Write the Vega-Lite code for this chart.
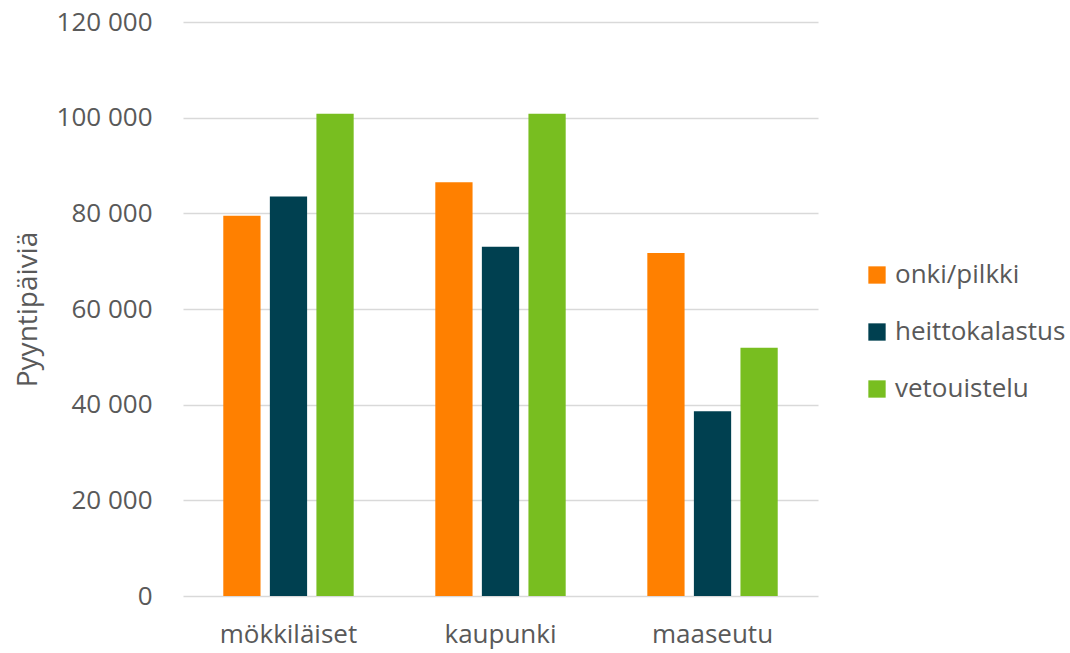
{
  "$schema": "https://vega.github.io/schema/vega-lite/v6.json",
  "width": 635,
  "height": 574,
  "autosize": {"type": "none"},
  "padding": {"left": 183, "top": 22, "right": 252, "bottom": 57},
  "background": "white",
  "data": {
    "values": [
      {"ryhma": "mökkiläiset", "tapa": "onki/pilkki", "paivat": 79500},
      {"ryhma": "mökkiläiset", "tapa": "heittokalastus", "paivat": 83500},
      {"ryhma": "mökkiläiset", "tapa": "vetouistelu", "paivat": 100800},
      {"ryhma": "kaupunki", "tapa": "onki/pilkki", "paivat": 86500},
      {"ryhma": "kaupunki", "tapa": "heittokalastus", "paivat": 73000},
      {"ryhma": "kaupunki", "tapa": "vetouistelu", "paivat": 100800},
      {"ryhma": "maaseutu", "tapa": "onki/pilkki", "paivat": 71700},
      {"ryhma": "maaseutu", "tapa": "heittokalastus", "paivat": 38600},
      {"ryhma": "maaseutu", "tapa": "vetouistelu", "paivat": 51900}
    ]
  },
  "config": {
    "font": "Open Sans",
    "view": {"stroke": null},
    "axis": {"labelColor": "#595959", "titleColor": "#595959", "labelFont": "Open Sans", "titleFont": "Open Sans"},
    "legend": {"labelColor": "#595959", "labelFont": "Open Sans"}
  },
  "mark": {"type": "bar"},
  "encoding": {
    "x": {
      "field": "ryhma",
      "type": "nominal",
      "sort": ["mökkiläiset", "kaupunki", "maaseutu"],
      "scale": {"paddingInner": 0.385, "paddingOuter": 0.19},
      "axis": {"title": null, "labelAngle": 0, "labelFontSize": 26, "labelPadding": 25, "ticks": false, "domain": false}
    },
    "xOffset": {
      "field": "tapa",
      "type": "nominal",
      "sort": ["onki/pilkki", "heittokalastus", "vetouistelu"],
      "scale": {"paddingInner": 0.2, "paddingOuter": 0}
    },
    "y": {
      "field": "paivat",
      "type": "quantitative",
      "scale": {"domain": [0, 120000], "nice": false},
      "axis": {
        "title": "Pyyntipäiviä",
        "titleFontSize": 28,
        "titleFontWeight": "normal",
        "titlePadding": 14,
        "labelFontSize": 26,
        "labelPadding": 31,
        "values": [0, 20000, 40000, 60000, 80000, 100000, 120000],
        "labelExpr": "replace(format(datum.value, ','), ',', ' ')",
        "ticks": false,
        "domain": false,
        "gridColor": "#d9d9d9",
        "gridWidth": 1.5
      }
    },
    "color": {
      "field": "tapa",
      "type": "nominal",
      "sort": ["onki/pilkki", "heittokalastus", "vetouistelu"],
      "scale": {"domain": ["onki/pilkki", "heittokalastus", "vetouistelu"], "range": ["#FF8000", "#004050", "#78BE20"]},
      "legend": {
        "title": null,
        "orient": "none",
        "legendX": 681,
        "legendY": 240,
        "symbolType": "square",
        "symbolSize": 300,
        "symbolStrokeWidth": 0,
        "labelFontSize": 26,
        "labelOffset": 5,
        "labelLimit": 400,
        "rowPadding": 31
      }
    }
  }
}
